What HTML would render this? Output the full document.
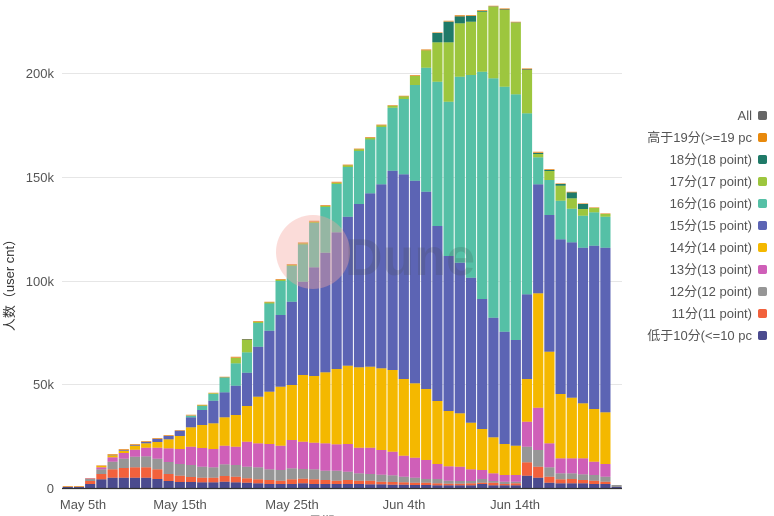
<!DOCTYPE html>
<html><head><meta charset="utf-8"><style>
body{margin:0;background:#fff;width:774px;height:516px;overflow:hidden;font-family:"Liberation Sans","Noto Sans CJK SC",sans-serif}
</style></head><body>
<svg width="774" height="516" xmlns="http://www.w3.org/2000/svg" style="position:absolute;left:0;top:0">
<g stroke="#e6e6e6" stroke-width="1">
<line x1="62" y1="73.5" x2="622" y2="73.5"/><line x1="62" y1="177.5" x2="622" y2="177.5"/>
<line x1="62" y1="281.5" x2="622" y2="281.5"/><line x1="62" y1="384.5" x2="622" y2="384.5"/>
</g>
<g font-size="13" fill="#555" text-anchor="end" font-family="Liberation Sans, sans-serif">
<text x="54" y="78">200k</text><text x="54" y="182">150k</text><text x="54" y="286">100k</text><text x="54" y="389">50k</text><text x="54" y="493">0</text>
</g>
<g font-size="13" fill="#555" text-anchor="middle" font-family="Liberation Sans, sans-serif">
<text x="83" y="509">May 5th</text><text x="180" y="509">May 15th</text><text x="292" y="509">May 25th</text><text x="404" y="509">Jun 4th</text><text x="515" y="509">Jun 14th</text>
</g>
<text x="340" y="526" font-size="13" fill="#555" text-anchor="middle">日期 (time)</text>
<text transform="translate(14,282) rotate(-90)" font-size="13" fill="#333" text-anchor="middle">人数（user cnt）</text>
<g id="bars"></g>
<line x1="62" y1="488.5" x2="622" y2="488.5" stroke="#333" stroke-width="1.2"/>
<circle cx="313" cy="252" r="37" fill="#f4a8a0" opacity="0.4"/>
<text x="345" y="275" font-size="52" font-weight="bold" fill="#444" opacity="0.18" font-family="Liberation Sans, sans-serif">Dune</text>
<g font-size="13" fill="#555" text-anchor="end">
<text x="752" y="120">All</text>
<text x="752" y="142">高于19分(&gt;=19 pc</text>
<text x="752" y="164">18分(18 point)</text>
<text x="752" y="186">17分(17 point)</text>
<text x="752" y="208">16分(16 point)</text>
<text x="752" y="230">15分(15 point)</text>
<text x="752" y="252">14分(14 point)</text>
<text x="752" y="274">13分(13 point)</text>
<text x="752" y="296">12分(12 point)</text>
<text x="752" y="318">11分(11 point)</text>
<text x="752" y="340">低于10分(&lt;=10 pc</text>
</g>
<g>
<rect x="758" y="111" width="9" height="9" rx="2" fill="#666"/>
<rect x="758" y="133" width="9" height="9" rx="2" fill="#e8890c"/>
<rect x="758" y="155" width="9" height="9" rx="2" fill="#1f7a68"/>
<rect x="758" y="177" width="9" height="9" rx="2" fill="#9dc63e"/>
<rect x="758" y="199" width="9" height="9" rx="2" fill="#55c0a6"/>
<rect x="758" y="221" width="9" height="9" rx="2" fill="#5c64b4"/>
<rect x="758" y="243" width="9" height="9" rx="2" fill="#f4b800"/>
<rect x="758" y="265" width="9" height="9" rx="2" fill="#cf5fb8"/>
<rect x="758" y="287" width="9" height="9" rx="2" fill="#969696"/>
<rect x="758" y="309" width="9" height="9" rx="2" fill="#f2613c"/>
<rect x="758" y="331" width="9" height="9" rx="2" fill="#4a4a8e"/>
</g>
</svg>
<script>
var D=[
[487,487,487,487,487,487,487,487,487,486],
[487,487,487,487,487,487,487,487,487,486],
[484,481,479,478.5,478.3,478.3,478.3,478.3,478.3,478],
[479.3,474,469.3,467.3,466,466,466,466,466,465.3],
[477.7,469.3,461.7,457.3,455.3,455,455,455,455,454],
[477.7,468,458.7,453,450.7,450,450,450,450,449],
[477.7,467.3,456.7,449.7,445.7,445,445,445,445,444],
[477.7,467.3,456.3,447.7,443.3,442,442,442,442,441],
[479,469.3,458.7,447.7,442,439,439,439,439,438],
[481,474,462,448.3,439.3,436,436,436,436,435],
[482,475.7,464,449,436,430.7,430.7,430.7,430.7,430],
[482,477,465,446.7,427.3,417.3,415.7,415.7,415.7,414.7],
[482.3,477.7,466.7,448,425,410,406,405.5,405.5,404.7],
[482.3,477.7,467.3,449,423.3,400.7,394,393.3,393.3,392.7],
[481.7,476,464.3,445.7,417.3,392.3,377.5,377.5,377.5,376.7],
[482.3,476.7,465,446.7,415,385.7,363.3,358,358,356.7],
[482.7,478.3,466.7,441.7,406,372.7,352.3,340,339.5,339],
[483.3,479.3,467.3,443.3,396.7,346.7,323,322,322,321],
[484,480,469.3,444,391.7,330.7,303.5,302.5,302.5,301.7],
[484,480.7,470,445.7,386.7,315,281,280,280,279],
[484,479.3,468.3,440,385,301.7,266,265,265,264],
[483.3,478.7,469,441.7,375,281.7,244.5,243.5,243.5,242.3],
[484,479.3,469.3,442.7,376,267.3,223,222,222,220.7],
[484,480,470.7,443.3,372.3,252.7,207,206,206,205],
[484,480.7,470.7,444.3,369,232.3,184,183,183,181.7],
[484,480,471.7,444,365.7,216.7,167,165.5,165.5,164.5],
[484,480.7,473.3,447.7,367.3,204,151,149.5,149.5,148.5],
[484.3,480.7,474,447.7,366.7,193.3,139.5,138,138,137],
[484.3,481.7,474.7,450,368.3,184.3,127,125.5,125.5,124.5],
[484.7,482,475.3,451.7,370,170.7,107.7,105.8,105.8,105],
[484.7,482.3,476.7,455.7,379,174.3,99,96.5,96.5,95.7],
[485,482.7,477.7,457.7,383.3,180.7,85,76,76,75],
[485,482.7,479,460,389,191.7,67.7,50.5,50.5,49.3],
[485.3,483.3,479,464,401,226,81.7,42.3,33,32.3],
[485.3,483.7,480.7,466.3,411,256,101.7,42.3,21.7,20.7],
[485.3,483.7,481,466.7,413.3,262.7,76.7,23.3,16.5,15],
[485.3,483.3,481,469.3,422.7,277.7,75,21.7,16,15],
[484,482.7,479,470,429,299,71.7,11.7,11,10],
[485.3,482.7,481,473.3,437.3,317.7,78.3,6.7,6.5,5.7],
[485.3,484,481.7,475,444,331.7,86.7,10,9.5,8.3],
[485.3,483.3,481.7,475,445.7,340,94.3,22.7,22.5,21.7],
[475.7,462.3,446.7,421.7,379,294.3,113.3,70,69.5,68.3],
[477.7,466.7,450,407.7,293.3,184.3,157.3,154,153,151.7],
[482.7,476.7,467.3,443.3,351.7,215,180,171,170,169],
[483.3,479.3,473.3,458.3,394,239.3,200.7,185.7,184,183.3],
[483.3,479,473.3,458.3,397.7,242.3,208.7,198.3,192.5,191.7],
[483.3,480,474.3,458.3,403.3,247.7,215.7,209,204,203.3],
[484,480.7,475,461.7,409,245.7,212.3,208,208,207.3],
[484,481.7,476.7,464,412.3,247.7,216.7,214,214,213.3],
[487,487,485,485,485,485,485,485,485,485]
];
var C=["#4a4a8e","#f2613c","#969696","#cf5fb8","#f4b800","#5c64b4","#55c0a6","#9dc63e","#1f7a68","#e8a050"];
var h="";
for(var i=0;i<D.length;i++){var x=62.7+11.2*i,prev=488,d=D[i];
for(var k=0;k<10;k++){var t=d[k];if(prev-t>0.05){h+='<rect x="'+x.toFixed(1)+'" y="'+t+'" width="10.2" height="'+(prev-t).toFixed(2)+'" fill="'+C[k]+'"/>';}prev=t;}}
document.getElementById("bars").innerHTML=h;
</script>
</body></html>
